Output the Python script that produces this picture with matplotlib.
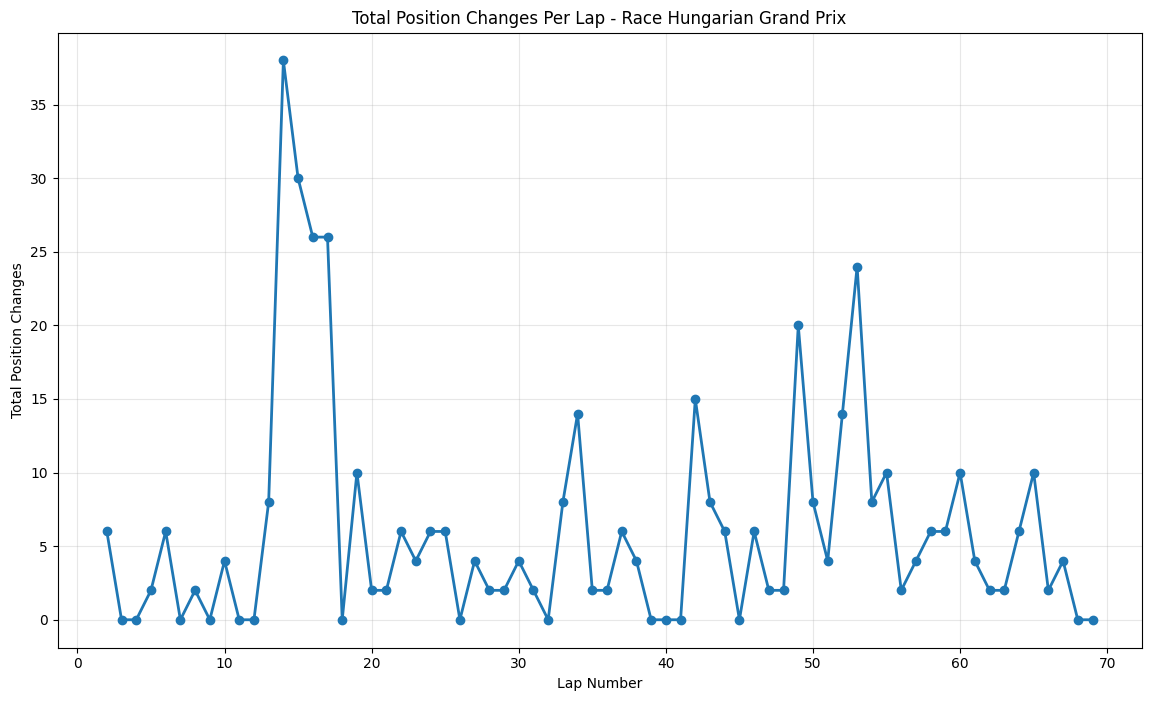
import matplotlib
matplotlib.use("Agg")
import matplotlib.pyplot as plt

# Lap numbers and total position changes
laps = list(range(2, 70))
changes = [6, 0, 0, 2, 6, 0, 2, 0, 4, 0, 0, 8, 38, 30, 26, 26, 0, 10, 2, 2,
           6, 4, 6, 6, 0, 4, 2, 2, 4, 2, 0, 8, 14, 2, 2, 6, 4, 0, 0, 0,
           15, 8, 6, 0, 6, 2, 2, 20, 8, 4, 14, 24, 8, 10, 2, 4, 6, 6, 10, 4,
           2, 2, 6, 10, 2, 4, 0, 0]

fig, ax = plt.subplots(figsize=(11.51, 7.01), dpi=100)
fig.subplots_adjust(left=0.050, right=0.992, top=0.9536, bottom=0.076)

ax.plot(laps, changes, marker='o', linewidth=2, markersize=6, color='#1f77b4')

ax.set_title('Total Position Changes Per Lap - Race Hungarian Grand Prix')
ax.set_xlabel('Lap Number')
ax.set_ylabel('Total Position Changes')
ax.grid(True, alpha=0.3)

fig.savefig('out.png', dpi=100)
